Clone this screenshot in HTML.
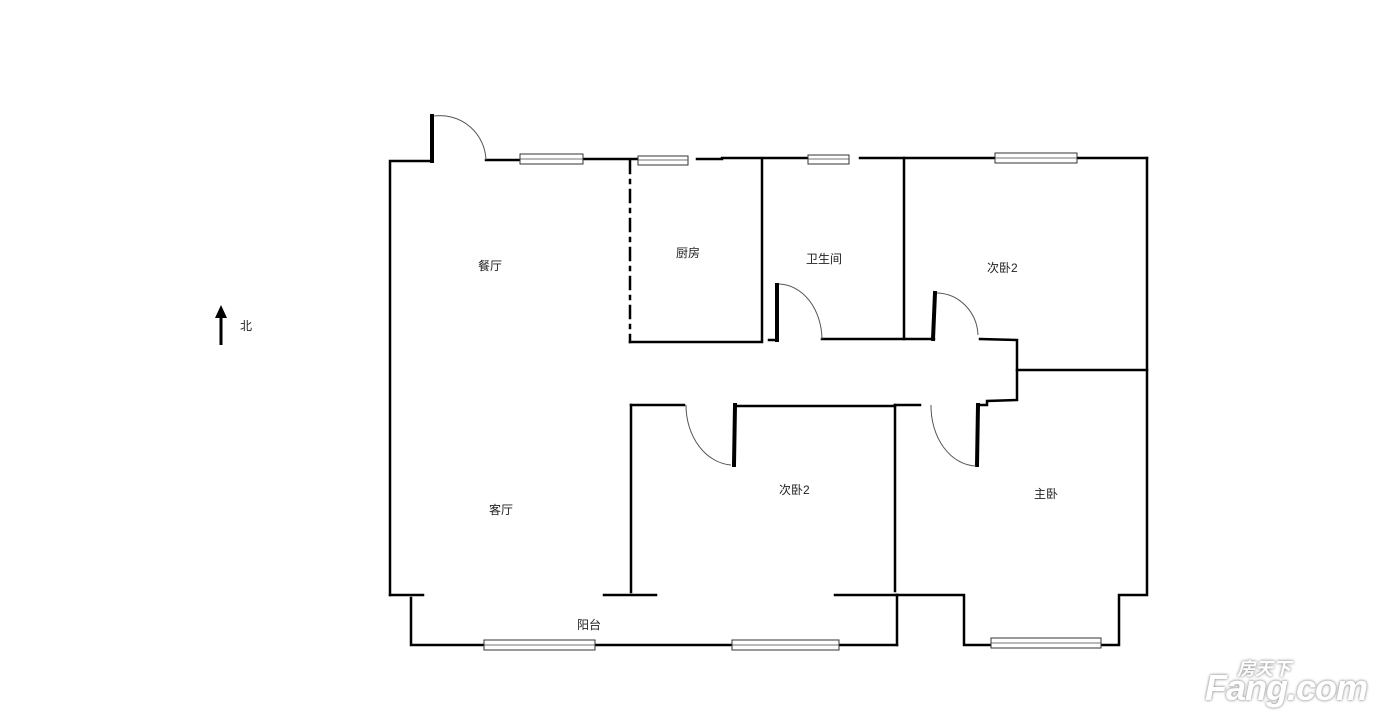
<!DOCTYPE html>
<html><head><meta charset="utf-8"><style>
html,body{margin:0;padding:0;background:#fff;width:1400px;height:727px;overflow:hidden}
svg{position:absolute;left:0;top:0}
text{font-family:"Liberation Sans","Noto Sans CJK SC",sans-serif;font-size:12px;fill:#222}
.wm{position:absolute;left:1205px;top:655px;width:190px;height:60px;white-space:nowrap;font-family:"Liberation Sans","Noto Sans CJK SC",sans-serif;font-weight:bold;font-style:italic;color:#fff;text-shadow:0 0 3px #999,0 0 2px #aaa}
.wm span{white-space:nowrap;display:block}
</style></head><body>
<svg width="1400" height="727" viewBox="0 0 1400 727">
<g stroke="#000" stroke-width="2.5" fill="none" stroke-linecap="square">
<polyline points="390,595 390,161 432,161"/>
<line x1="432" y1="116" x2="432" y2="161" stroke-width="4"/>
<line x1="486" y1="160" x2="520" y2="160"/>
<line x1="583" y1="159" x2="638" y2="159"/>
<line x1="697" y1="159" x2="722" y2="159"/>
<line x1="722" y1="158" x2="808" y2="158"/>
<line x1="860" y1="158" x2="995" y2="158"/>
<line x1="1077" y1="158" x2="1147" y2="158"/>
<polyline points="1147,158 1147,595 1119,595 1119,645 1101,645"/>
<polyline points="991,645 964,645 964,595 897,595"/>
<line x1="897" y1="595" x2="897" y2="645"/>
<line x1="835" y1="595" x2="897" y2="595"/>
<line x1="895" y1="405" x2="895" y2="591"/>
<line x1="839" y1="645" x2="897" y2="645"/>
<line x1="595" y1="645" x2="732" y2="645"/>
<polyline points="484,645 411,645 411,598"/>
<line x1="390" y1="595" x2="423" y2="595"/>
<line x1="604" y1="595" x2="656" y2="595"/>
<line x1="631" y1="405" x2="631" y2="592"/>
<line x1="630" y1="161" x2="630" y2="342" stroke-dasharray="12,7,3,7"/>
<polyline points="630,342 762,342 762,160"/>
<line x1="769" y1="340" x2="777" y2="340"/>
<line x1="777" y1="285" x2="777" y2="340" stroke-width="4"/>
<line x1="822" y1="339" x2="934" y2="339"/>
<line x1="904" y1="158" x2="904" y2="339"/>
<line x1="935" y1="293" x2="933" y2="339" stroke-width="4"/>
<polyline points="980,339 1017,340 1017,400 987,401 987,405 978,405"/>
<line x1="1017" y1="370" x2="1147" y2="370"/>
<line x1="978" y1="405" x2="977" y2="465" stroke-width="4"/>
<line x1="895" y1="405" x2="920" y2="405"/>
<line x1="631" y1="405" x2="684" y2="405"/>
<line x1="735" y1="405" x2="734" y2="465" stroke-width="4"/>
<line x1="737" y1="406" x2="895" y2="406"/>
</g>
<g stroke="#555" stroke-width="1" fill="none">
<path d="M434,116 A46,46 0 0 1 486,160"/>
<path d="M779,284 A44,56 0 0 1 822,339"/>
<path d="M937,293 A42,44 0 0 1 978,335"/>
<path d="M931,405 A46,60 0 0 0 976,466"/>
<path d="M686,405 A48,60 0 0 0 731,465"/>
</g>
<g stroke="#333" stroke-width="1" fill="#fff">
<rect x="520" y="154" width="63" height="10"/>
<rect x="638" y="156" width="50" height="9"/>
<rect x="808" y="155" width="41" height="9"/>
<rect x="995" y="153" width="82" height="10"/>
<rect x="484" y="640" width="111" height="10"/>
<rect x="732" y="640" width="107" height="10"/>
<rect x="991" y="638" width="110" height="10"/>
</g>
<g stroke="#444" stroke-width="0.8">
<line x1="520" y1="159" x2="583" y2="159"/><line x1="638" y1="160" x2="688" y2="160"/>
<line x1="808" y1="159" x2="849" y2="159"/><line x1="995" y1="158" x2="1077" y2="158"/>
<line x1="484" y1="645" x2="595" y2="645"/><line x1="732" y1="645" x2="839" y2="645"/>
<line x1="991" y1="643" x2="1101" y2="643"/>
</g>
<line x1="221" y1="345" x2="221" y2="316" stroke="#000" stroke-width="3"/>
<polygon points="215,318 221,305 227,318" fill="#000"/>
<text x="240" y="330">北</text>
<text x="478" y="270">餐厅</text>
<text x="676" y="257">厨房</text>
<text x="806" y="263">卫生间</text>
<text x="987" y="272">次卧2</text>
<text x="779" y="494">次卧2</text>
<text x="489" y="514">客厅</text>
<text x="1034" y="498">主卧</text>
<text x="577" y="629">阳台</text>
</svg>
<div class="wm"><span style="font-size:18px;position:absolute;left:32px;top:0">房天下</span><span style="font-size:36px;position:absolute;left:0;top:12px;letter-spacing:-1px">Fang.com</span></div>
</body></html>
